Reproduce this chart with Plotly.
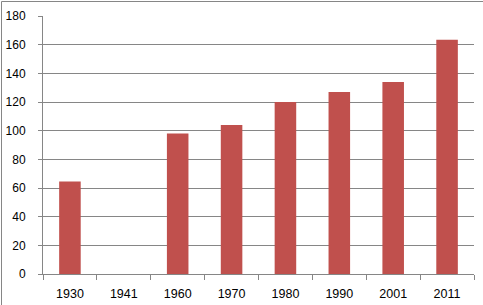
import plotly.graph_objects as go

categories = ["1930", "1941", "1960", "1970", "1980", "1990", "2001", "2011"]
values = [64.5, None, 98, 104, 120, 127, 134, 163.5]
y_ticks = [0, 20, 40, 60, 80, 100, 120, 140, 160, 180]

W, H = 483, 305
L, R, T, B = 43, 9, 16, 31
pw, ph = W - L - R, H - T - B

fig = go.Figure(go.Bar(x=categories, y=values, marker=dict(color="#C0504D", line=dict(width=0))))

font = dict(family="Liberation Sans, Arial, sans-serif", size=12, color="#000000")

fig.update_layout(
    width=W, height=H,
    margin=dict(l=L, r=R, t=T, b=B, pad=0, autoexpand=False),
    paper_bgcolor="white", plot_bgcolor="white",
    bargap=0.6,
    showlegend=False,
    font=font,
)
fig.update_xaxes(
    type="category", automargin=False,
    showline=True, linecolor="#868686", linewidth=1,
    ticks="outside", tickson="boundaries", ticklen=5, tickcolor="#868686",
    showgrid=False,
    tickfont=dict(family="Liberation Sans, Arial, sans-serif", size=12.5, color="#000000"),
    ticklabelstandoff=8,
)
fig.update_yaxes(
    range=[0, 180], tickvals=y_ticks, automargin=False,
    showline=True, linecolor="#868686", linewidth=1,
    ticks="outside", ticklen=4, tickcolor="#868686",
    showgrid=True, gridcolor="#868686", gridwidth=1,
    zeroline=False,
    tickfont=font,
    ticklabelstandoff=10,
)

# chart-area border (left and top edges visible in the picture)
x0 = (1.5 - L) / pw
x1 = (W - L) / pw
y_top = (H - B - 1.5) / ph
y_bot = (H - B - H) / ph
fig.add_shape(type="line", xref="paper", yref="paper", x0=x0, x1=x0, y0=y_bot, y1=y_top,
              line=dict(color="#868686", width=1), layer="below")
fig.add_shape(type="line", xref="paper", yref="paper", x0=x0, x1=x1, y0=y_top, y1=y_top,
              line=dict(color="#868686", width=1), layer="below")

fig.write_html("out.html")
